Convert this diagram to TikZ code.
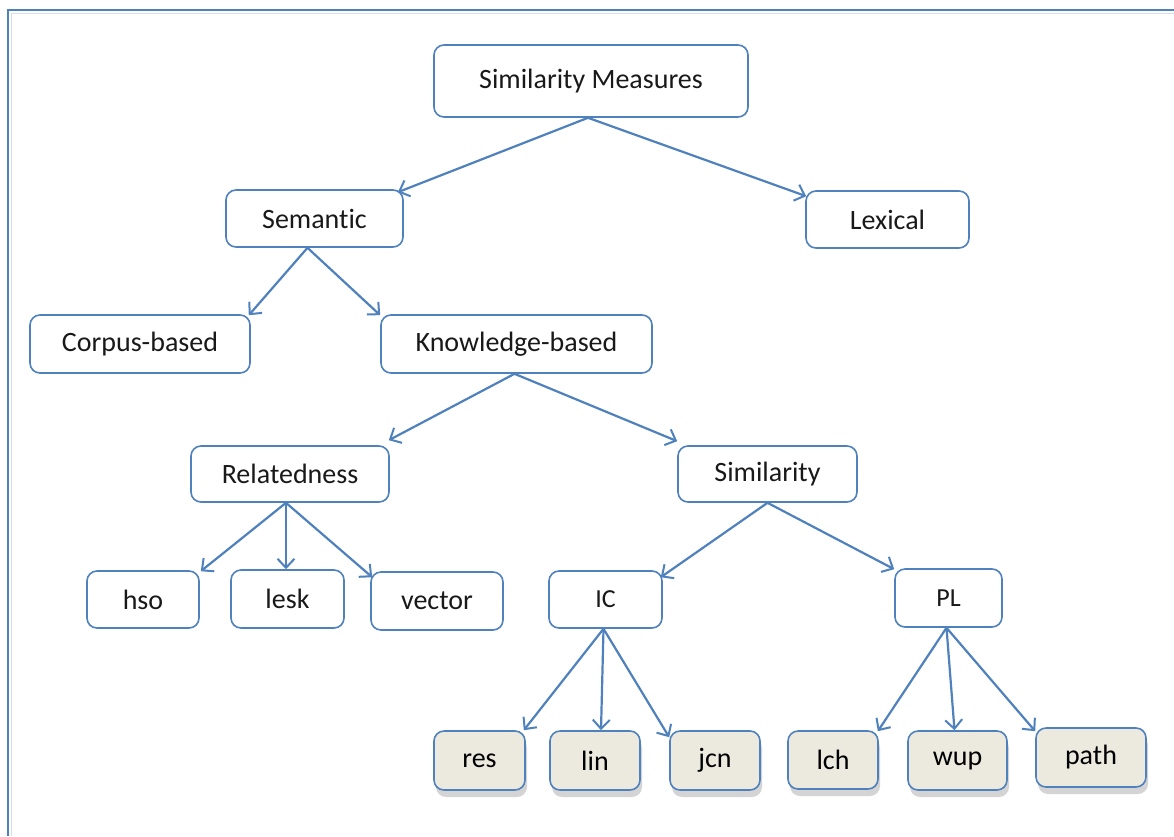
\documentclass[tikz,border=0pt]{standalone}
\usepackage{fontspec}
\setmainfont{Carlito}[RawFeature=-liga]
\usetikzlibrary{arrows.meta,shadows}
\definecolor{edge}{HTML}{4F81BD}
\definecolor{leaffill}{HTML}{ECEADF}
\tikzset{
  x=1pt, y=-1pt,
  box/.style={draw=edge, line width=1.6pt, rounded corners=10pt, fill=white,
    inner sep=0pt, font=\fontsize{28}{32}\selectfont, text=black!90},
  small/.style={font=\fontsize{26}{30}\selectfont},
  leaf/.style={box, fill=leaffill, font=\fontsize{28}{32}\selectfont, text=black,
    drop shadow={shadow xshift=2pt, shadow yshift=-7pt, fill=black!55, opacity=0.3}},
  link/.style={draw=edge, line width=2.2pt, -{Straight Barb[length=9pt,width=17pt,line width=2pt]}},
}
\begin{document}
\begin{tikzpicture}
\useasboundingbox (0,0) rectangle (1174,836);
\fill[white] (0,0) rectangle (1174,836);
% frame along the top and left
\draw[edge!25, line width=1.5pt] (11.5,836) -- (11.5,13.5) -- (1174,13.5);
\draw[edge, line width=2.4pt] (8,836) -- (8,10) -- (1174,10);

% level 0-1
\node[box, minimum width=314pt, minimum height=72pt] (sm) at (591,81) {\raisebox{5pt}{Similarity Measures}};
\node[box, minimum width=177pt, minimum height=57pt] (sem) at (314.5,218.5) {Semantic};
\node[box, minimum width=163pt, minimum height=57pt] (lex) at (887.5,219.5) {Lexical};
% level 2
\node[box, minimum width=220pt, minimum height=58pt] (corp) at (140,344) {Corpus-based};
\node[box, minimum width=271pt, minimum height=58pt] (know) at (516.5,344) {Knowledge-based};
% level 3
\node[box, minimum width=198pt, minimum height=56pt] (rel) at (290,474) {Relatedness};
\node[box, minimum width=179pt, minimum height=56pt] (sim) at (767.5,474) {Similarity};
% level 4
\node[box, minimum width=112pt, minimum height=57pt] (hso) at (143,599.5) {hso};
\node[box, minimum width=113pt, minimum height=58pt] (lesk) at (287.5,599) {lesk};
\node[box, minimum width=132pt, minimum height=58pt] (vec) at (437,601) {vector};
\node[box, small, minimum width=113pt, minimum height=57pt] (ic) at (605.5,599.5) {IC};
\node[box, small, minimum width=107pt, minimum height=58pt] (pl) at (948.5,598) {PL};
% leaves
\node[leaf, minimum width=91pt, minimum height=59pt] (res) at (479.5,760.5) {res};
\node[leaf, minimum width=90pt, minimum height=59pt] (lin) at (595,760.5) {lin};
\node[leaf, minimum width=90pt, minimum height=59pt] (jcn) at (715,760.5) {jcn};
\node[leaf, minimum width=90pt, minimum height=58pt] (lch) at (833,760) {lch};
\node[leaf, minimum width=99pt, minimum height=59pt] (wup) at (957.5,760.5) {wup};
\node[leaf, minimum width=110pt, minimum height=59pt] (path) at (1091,757.5) {path};

% connectors
\draw[link] ([xshift=-3pt]sm.south) -- ([xshift=-6pt,yshift=-3pt]sem.north east);
\draw[link] ([xshift=-3pt]sm.south) -- ([xshift=1pt,yshift=-6pt]lex.north west);
\draw[link] ([xshift=-7pt]sem.south) -- ([xshift=-2pt,yshift=-1pt]corp.north east);
\draw[link] ([xshift=-7pt]sem.south) -- ([xshift=0pt,yshift=-1pt]know.north west);
\draw[link] ([xshift=-2pt]know.south) -- ([xshift=-1pt,yshift=5pt]rel.north east);
\draw[link] ([xshift=-2pt]know.south) -- ([xshift=0pt,yshift=4pt]sim.north west);
\draw[link] ([xshift=-4pt]rel.south) -- ([xshift=1pt,yshift=-1pt]hso.north east);
\draw[link] ([xshift=-4pt]rel.south) -- ([xshift=-1.5pt]lesk.north);
\draw[link] ([xshift=-4pt]rel.south) -- ([xshift=2pt,yshift=-6pt]vec.north west);
\draw[link] (sim.south) -- ([xshift=-2pt,yshift=-7pt]ic.north east);
\draw[link] (sim.south) -- ([xshift=0pt,yshift=-1pt]pl.north west);
\draw[link] ([xshift=-2pt]ic.south) -- ([xshift=-2pt]res.north east);
\draw[link] ([xshift=-2pt]ic.south) -- ([xshift=6pt]lin.north);
\draw[link] ([xshift=-2pt]ic.south) -- ([xshift=0pt,yshift=-7pt]jcn.north west);
\draw[link] ([xshift=-2pt]pl.south) -- ([xshift=-1pt,yshift=-1pt]lch.north east);
\draw[link] ([xshift=-2pt]pl.south) -- ([xshift=-3pt]wup.north);
\draw[link] ([xshift=-2pt]pl.south) -- ([xshift=0pt,yshift=-4pt]path.north west);
\end{tikzpicture}
\end{document}
